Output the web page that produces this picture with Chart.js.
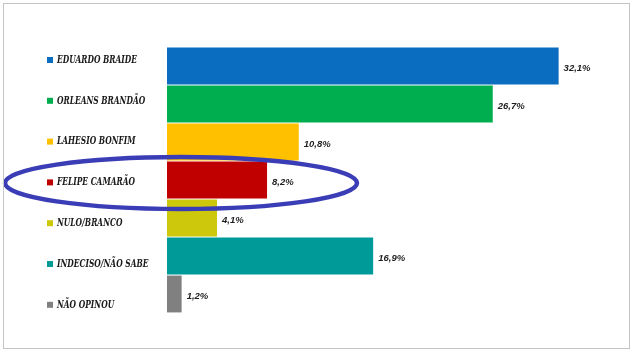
<!DOCTYPE html>
<html lang="pt">
<head>
    <meta charset="UTF-8">
    <title>Pesquisa São Luís</title>
    <script src="https://cdn.jsdelivr.net/npm/chart.js"></script>
    <style>
        html, body { margin: 0; padding: 0; background: #fff; }
        .wrap { position: relative; width: 636px; height: 351px; }
    </style>
</head>
<body>
    <div class="wrap">
        <canvas id="pollChart"></canvas>
    </div>

    <script>
        // Data
        const candidates = ['EDUARDO BRAIDE', 'ORLEANS BRANDÃO', 'LAHESIO BONFIM', 'FELIPE CAMARÃO', 'NULO/BRANCO', 'INDECISO/NÃO SABE', 'NÃO OPINOU'];
        const percents = [32.1, 26.7, 10.8, 8.2, 4.1, 16.9, 1.2];
        const barColors = ['#0a6dbf', '#00ae50', '#ffc000', '#c00000', '#cdc80c', '#009a99', '#808080'];
        const highlighted = 'FELIPE CAMARÃO';

        const fmt = v => v.toFixed(1).replace('.', ',') + '%';

        // left labels with colour squares, value labels, frame and ellipse
        const decorations = {
            id: 'decorations',
            afterDatasetsDraw(chart) {
                const ctx = chart.ctx;
                const meta = chart.getDatasetMeta(0);
                ctx.save();

                // category labels (a bit more spread out than the bars)
                const labelTop = 60, labelStep = 40.8;
                const labelFont = 'bold italic 10.5px "DejaVu Serif", "Liberation Serif", serif';
                ctx.font = labelFont;
                // squeeze the serif so "EDUARDO BRAIDE" is about 80px wide, like the original
                const squeeze = 80 / ctx.measureText(candidates[0]).width;
                ctx.textBaseline = 'middle';
                candidates.forEach((name, i) => {
                    const y = labelTop + i * labelStep;
                    ctx.fillStyle = barColors[i];
                    ctx.fillRect(47, y - 3, 6, 6);
                    ctx.save();
                    ctx.translate(57, y);
                    ctx.scale(squeeze, 1);
                    ctx.fillStyle = '#1a1a1a';
                    ctx.font = labelFont;
                    ctx.fillText(name, 0, 0);
                    ctx.restore();
                });

                // values at the end of the bars
                ctx.fillStyle = '#1e1e1e';
                ctx.font = 'bold italic 9.5px "Liberation Sans", Arial, sans-serif';
                meta.data.forEach((bar, i) => {
                    ctx.fillText(fmt(percents[i]), bar.x + 5, bar.y + 2);
                });

                // hand-drawn style ellipse around the highlighted candidate
                const hi = candidates.indexOf(highlighted);
                const hb = meta.data[hi];
                ctx.strokeStyle = '#3a3db6';
                ctx.lineWidth = 4.5;
                ctx.beginPath();
                ctx.ellipse(181, hb.y + 3, 176, 26, 0, 0, Math.PI * 2);
                ctx.stroke();

                // outer frame
                ctx.strokeStyle = '#c4c4c4';
                ctx.lineWidth = 1;
                ctx.strokeRect(3.5, 3.5, 626, 345);
                ctx.restore();
            }
        };

        new Chart(document.getElementById('pollChart'), {
            type: 'bar',
            data: {
                labels: candidates,
                datasets: [{
                    data: percents,
                    backgroundColor: barColors,
                    borderWidth: 0,
                    barPercentage: 0.97,
                    categoryPercentage: 1
                }]
            },
            options: {
                indexAxis: 'y',
                responsive: true,
                maintainAspectRatio: false,
                animation: false,
                layout: { padding: { left: 167, top: 47, right: 42, bottom: 38 } },
                scales: {
                    x: { display: false, min: 0, max: 35 },
                    y: { display: false }
                },
                plugins: {
                    legend: { display: false },
                    tooltip: { enabled: false }
                }
            },
            plugins: [decorations]
        });
    </script>
</body>
</html>
